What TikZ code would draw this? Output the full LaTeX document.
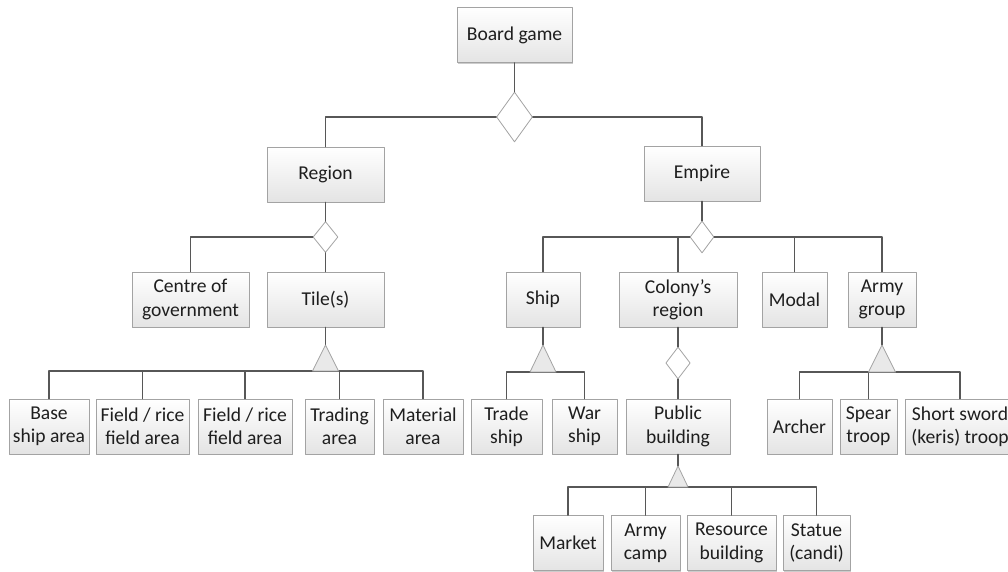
\documentclass[tikz,border=0pt]{standalone}
\usepackage{fontspec}
\setmainfont{Carlito}
\usetikzlibrary{shapes.geometric}
\usetikzlibrary{shadows}
\definecolor{linecol}{HTML}{575757}
\definecolor{boxline}{HTML}{A3A3A3}
\definecolor{boxfill}{HTML}{E4E4E4}
\definecolor{trigray}{HTML}{E9E9E9}
\definecolor{txt}{HTML}{1E1E1E}
\newcommand*\mydrawtriangle[3][13]{%
    \draw[trifill] ([xshift=-#1pt]#3) -- (#2) -- ([xshift=#1pt]#3) -- cycle;
}

\begin{document}
\begin{tikzpicture}[x=1pt,y=-1pt,line cap=round,line join=round,
    box/.style={draw=boxline,line width=0.8pt,top color=white,bottom color=boxfill,
        minimum height=55pt,inner sep=1pt,align=center,text=txt,
        font=\fontsize{19.6}{23.4}\selectfont,
        drop shadow={shadow xshift=1.2pt,shadow yshift=-1.2pt,opacity=0.2,fill=black}},
    dia/.style={diamond,draw=boxline,line width=0.8pt,fill=white,inner sep=0pt},
    trifill/.style={draw=boxline,line width=0.8pt,fill=trigray},
    link/.style={draw=linecol,line width=1.5pt}]
\useasboundingbox (0,0) rectangle (1008,571);

% top
\node[box,minimum width=115pt] (board) at (514.5,35) {Board game};
\node[dia,minimum width=36pt,minimum height=50pt] (d0) at (514.5,117) {};
\node[box,minimum width=117pt] (region) at (325.5,174.5) {Region};
\node[box,minimum width=116pt] (empire) at (702,173.5) {Empire};
\draw[link] (board) -- (d0);
\draw[link] (d0.west) -| (region);
\draw[link] (d0.east) -| (empire);

% region side
\node[dia,minimum width=25pt,minimum height=31pt] (d1) at (325.5,237) {};
\node[box,minimum width=117pt] (centre) at (190.5,299.5) {Centre of\\government};
\node[box,minimum width=117pt] (tiles) at (325.5,299.5) {Tile(s)};
\draw[link] (region) -- (d1);
\draw[link] (d1.west) -| (centre);
\draw[link] (d1) -- (tiles);

\node[box,minimum width=80pt] (baseship) at (49,426.5) {Base\\ship area};
\node[box,minimum width=93pt] (field1) at (142.5,426.5) {Field / rice\\field area};
\node[box,minimum width=94pt] (field2) at (245,426.5) {Field / rice\\field area};
\node[box,minimum width=69pt] (trading) at (339.5,426.5) {Trading\\area};
\node[box,minimum width=80pt] (material) at (423,426.5) {Material\\area};
\coordinate (t1a) at (325.5,345);
\coordinate (t1) at (325.5,371);
\draw[link] (tiles) -- (t1a);
\draw[link] (baseship) |- (t1) -| (material);
\foreach \n in {field1,field2,trading}
    \draw[link] (\n) -- (\n |- t1);
\mydrawtriangle{t1a}{t1}

% empire side
\node[dia,minimum width=24pt,minimum height=32pt] (d2) at (702,237) {};
\node[box,minimum width=74pt] (ship) at (543,299.5) {Ship};
\node[box,minimum width=118pt] (colony) at (678,299.5) {Colony’s\\region};
\node[box,minimum width=65pt] (modal) at (794.5,299.5) {Modal};
\node[box,minimum width=68pt] (armygroup) at (882,299.5) {Army\\group};
\draw[link] (empire) -- (d2);
\draw[link] (d2.west) -| (ship);
\draw[link] (d2.east) -| (armygroup);
\draw[link] (colony) -- (colony |- d2);
\draw[link] (modal) -- (modal |- d2);

\node[box,minimum width=71pt] (tradeship) at (506.5,426.5) {Trade\\ship};
\node[box,minimum width=65pt] (warship) at (584.5,426.5) {War\\ship};
\coordinate (t2a) at (543,345);
\coordinate (t2) at (543,372);
\draw[link] (ship) -- (t2a);
\draw[link] (tradeship) |- (t2) -| (warship);
\mydrawtriangle{t2a}{t2}

\node[dia,minimum width=24.5pt,minimum height=32pt] (d3) at (678,363) {};
\node[box,minimum width=104pt] (public) at (678,426.5) {Public\\building};
\draw[link] (colony) -- (d3);
\draw[link] (d3) -- (public);

\node[box,minimum width=65pt] (archer) at (799.5,426.5) {Archer};
\node[box,minimum width=57pt] (spear) at (868.5,426.5) {Spear\\troop};
\node[box,minimum width=110pt] (keris) at (960,426.5) {Short sword\\(keris) troop};
\coordinate (t3a) at (882,345);
\coordinate (t3) at (882,372);
\draw[link] (armygroup) -- (t3a);
\draw[link] (archer) |- (t3) -| (keris);
\draw[link] (spear) -- (spear |- t3);
\mydrawtriangle[13.5]{t3a}{t3}

% public building
\node[box,minimum width=70pt] (market) at (568,543) {Market};
\node[box,minimum width=69pt] (armycamp) at (645.5,543) {Army\\camp};
\node[box,minimum width=89pt] (resource) at (731.5,543) {Resource\\building};
\node[box,minimum width=67pt] (statue) at (816.5,543) {Statue\\(candi)};
\coordinate (t4a) at (678,466);
\coordinate (t4) at (678,487);
\draw[link] (public) -- (t4a);
\draw[link] (market) |- (t4) -| (statue);
\foreach \n in {armycamp,resource}
    \draw[link] (\n) -- (\n |- t4);
\mydrawtriangle[10]{t4a}{t4}
\end{tikzpicture}
\end{document}
